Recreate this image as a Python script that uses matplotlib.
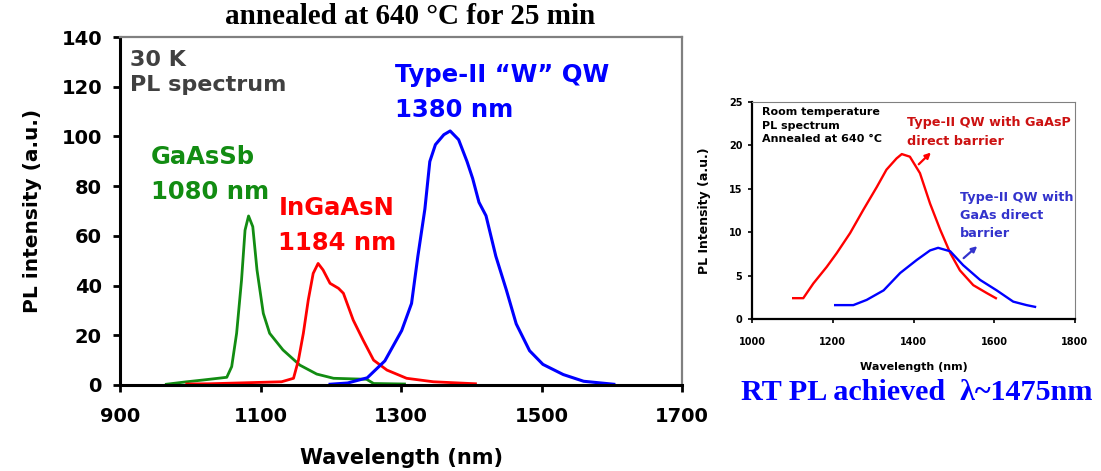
import matplotlib
matplotlib.use("Agg")
import matplotlib.pyplot as plt

plt.rcParams['font.family'] = ['DejaVu Sans']
plt.rcParams['font.weight'] = 'bold'

# ---------------- Left chart data (30 K PL) ----------------
gaassb_wl = [966, 995, 1018, 1052, 1059, 1066, 1073, 1078, 1083, 1089, 1095, 1104,
             1113, 1132, 1156, 1180, 1204, 1251, 1261, 1305]
gaassb_pl = [0.3, 1.3, 2.0, 3.1, 7.4, 20.8, 42.2, 62.3, 68.0, 63.7, 46.3, 28.8,
             20.8, 14.1, 8.0, 4.4, 2.7, 2.3, 0.6, 0.4]

ingaasn_wl = [995, 1028, 1130, 1147, 1154, 1161, 1168, 1175, 1182, 1189, 1199, 1211,
              1218, 1232, 1246, 1261, 1280, 1308, 1346, 1406]
ingaasn_pl = [0.4, 0.5, 1.3, 2.7, 10.0, 20.8, 34.2, 44.9, 48.9, 46.3, 40.9, 38.9,
              36.9, 26.1, 18.1, 10.0, 6.0, 2.7, 1.3, 0.5]

w_wl = [1199, 1224, 1252, 1277, 1301, 1315, 1324, 1334, 1341, 1349, 1361, 1370,
        1382, 1394, 1402, 1411, 1421, 1435, 1450, 1464, 1483, 1502, 1531, 1560, 1603]
w_pl = [0.3, 0.8, 2.9, 9.7, 21.9, 32.8, 51.8, 70.8, 89.9, 96.7, 100.7, 102.2,
        98.7, 89.9, 83.1, 73.5, 68.1, 51.8, 38.2, 24.6, 13.8, 8.3, 4.2, 1.5, 0.3]

left_xticks = [900, 1100, 1300, 1500, 1700]
left_yticks = [0, 20, 40, 60, 80, 100, 120, 140]

# ---------------- Right chart data (room temperature) ----------------
gaasp_wl = [1102, 1127, 1152, 1185, 1210, 1243, 1276, 1309, 1333, 1358, 1371, 1391,
            1416, 1441, 1466, 1491, 1515, 1548, 1581, 1604]
gaasp_pl = [2.4, 2.4, 4.1, 6.0, 7.6, 9.9, 12.6, 15.2, 17.2, 18.5, 19.0, 18.7,
            16.8, 13.3, 10.3, 7.6, 5.6, 3.9, 3.0, 2.4]

gaas_wl = [1206, 1251, 1284, 1326, 1367, 1408, 1441, 1461, 1491, 1523, 1565, 1606,
           1647, 1680, 1701]
gaas_pl = [1.6, 1.6, 2.2, 3.3, 5.3, 6.8, 7.9, 8.2, 7.8, 6.2, 4.5, 3.3, 2.0, 1.6, 1.4]

right_xticks = [1000, 1200, 1400, 1600, 1800]
right_yticks = [0, 5, 10, 15, 20, 25]

W, H = 1101, 471
fig = plt.figure(figsize=(W / 100, H / 100), dpi=100)


def rect(l, t, r, b):
    return [l / W, 1 - b / H, (r - l) / W, (b - t) / H]


GREEN = '#128c12'
GREY = '#404040'

# ---------------- Left axes ----------------
ax = fig.add_axes(rect(120, 37, 682, 385))
ax.plot(gaassb_wl, gaassb_pl, color=GREEN, lw=2.0)
ax.plot(ingaasn_wl, ingaasn_pl, color='#ff0000', lw=2.0)
ax.plot(w_wl, w_pl, color='#0000ff', lw=2.2)
ax.set_xlim(900, 1700)
ax.set_ylim(0, 140)
ax.set_xticks(left_xticks)
ax.set_yticks(left_yticks)
ax.tick_params(axis='both', labelsize=14, width=2, length=5, direction='out')
ax.tick_params(axis='x', pad=11)
ax.tick_params(axis='y', pad=8)
for lab in ax.get_xticklabels() + ax.get_yticklabels():
    lab.set_fontweight('bold')
ax.spines['left'].set_linewidth(2.2)
ax.spines['bottom'].set_linewidth(2.2)
ax.spines['top'].set_color('#808080')
ax.spines['right'].set_color('#808080')
ax.spines['top'].set_linewidth(1.6)
ax.spines['right'].set_linewidth(1.6)
ax.set_xlabel('Wavelength (nm)', fontsize=15, fontweight='bold', labelpad=15.5)
ax.set_ylabel('PL intensity (a.u.)', fontsize=14.5, fontweight='bold', labelpad=14)

ax.text(0.018, 0.964, '30 K\nPL spectrum', transform=ax.transAxes, color=GREY,
        fontsize=16, fontweight='bold', va='top', ha='left', linespacing=1.35)
ax.text(0.055, 0.69, 'GaAsSb\n1080 nm', transform=ax.transAxes, color=GREEN,
        fontsize=17.5, fontweight='bold', va='top', ha='left', linespacing=1.58)
ax.text(0.282, 0.543, 'InGaAsN\n1184 nm', transform=ax.transAxes, color='#ff0000',
        fontsize=17.5, fontweight='bold', va='top', ha='left', linespacing=1.58)
ax.text(0.49, 0.925, 'Type-II \u201cW\u201d QW\n1380 nm', transform=ax.transAxes,
        color='#0000ff', fontsize=17.5, fontweight='bold', va='top', ha='left',
        linespacing=1.58)

fig.text(410 / W, 1 - 24 / H, 'annealed at 640 \u00b0C for 25 min',
         family='Liberation Serif', fontsize=21, fontweight='bold',
         ha='center', va='baseline', color='black')

# ---------------- Right axes ----------------
ax2 = fig.add_axes(rect(752, 102, 1075, 319))
ax2.plot(gaasp_wl, gaasp_pl, color='#ff0000', lw=1.7)
ax2.plot(gaas_wl, gaas_pl, color='#0000ff', lw=1.7)
ax2.set_xlim(1000, 1800)
ax2.set_ylim(0, 25)
ax2.set_xticks(right_xticks)
ax2.set_yticks(right_yticks)
ax2.tick_params(axis='both', labelsize=7, width=1.2, length=3, direction='out')
ax2.tick_params(axis='x', pad=10)
ax2.tick_params(axis='y', pad=4)
for lab in ax2.get_xticklabels() + ax2.get_yticklabels():
    lab.set_fontweight('bold')
ax2.spines['left'].set_linewidth(1.6)
ax2.spines['bottom'].set_linewidth(1.6)
ax2.spines['top'].set_color('#808080')
ax2.spines['right'].set_color('#808080')
ax2.set_xlabel('Wavelength (nm)', fontsize=8, fontweight='bold', labelpad=11)
ax2.set_ylabel('PL Intensity (a.u.)', fontsize=9, fontweight='bold', labelpad=13)

ax2.text(0.03, 0.977, 'Room temperature\nPL spectrum\nAnnealed at 640 \u00b0C',
         transform=ax2.transAxes, fontsize=8, fontweight='bold', va='top', ha='left',
         linespacing=1.44, color='black')
ax2.text(0.48, 0.935, 'Type-II QW with GaAsP\ndirect barrier', transform=ax2.transAxes,
         fontsize=9.2, fontweight='bold', va='top', ha='left', color='#cc1111',
         linespacing=1.56)
ax2.text(0.644, 0.59, 'Type-II QW with\nGaAs direct\nbarrier', transform=ax2.transAxes,
         fontsize=9.2, fontweight='bold', va='top', ha='left', color='#3333cc',
         linespacing=1.5)
ax2.annotate('', xy=(1448, 19.4), xytext=(1408, 17.6),
             arrowprops=dict(arrowstyle='-|>', color='#ff0000', lw=1.6,
                             mutation_scale=8))
ax2.annotate('', xy=(1563, 8.6), xytext=(1519, 6.8),
             arrowprops=dict(arrowstyle='-|>', color='#3333cc', lw=1.6,
                             mutation_scale=8))

fig.text(917 / W, 1 - 400 / H, 'RT PL achieved  \u03bb~1475nm',
         family='Liberation Serif', fontsize=21.7, fontweight='bold',
         ha='center', va='baseline', color='#0000ff')

fig.savefig('out.png', dpi=100)
